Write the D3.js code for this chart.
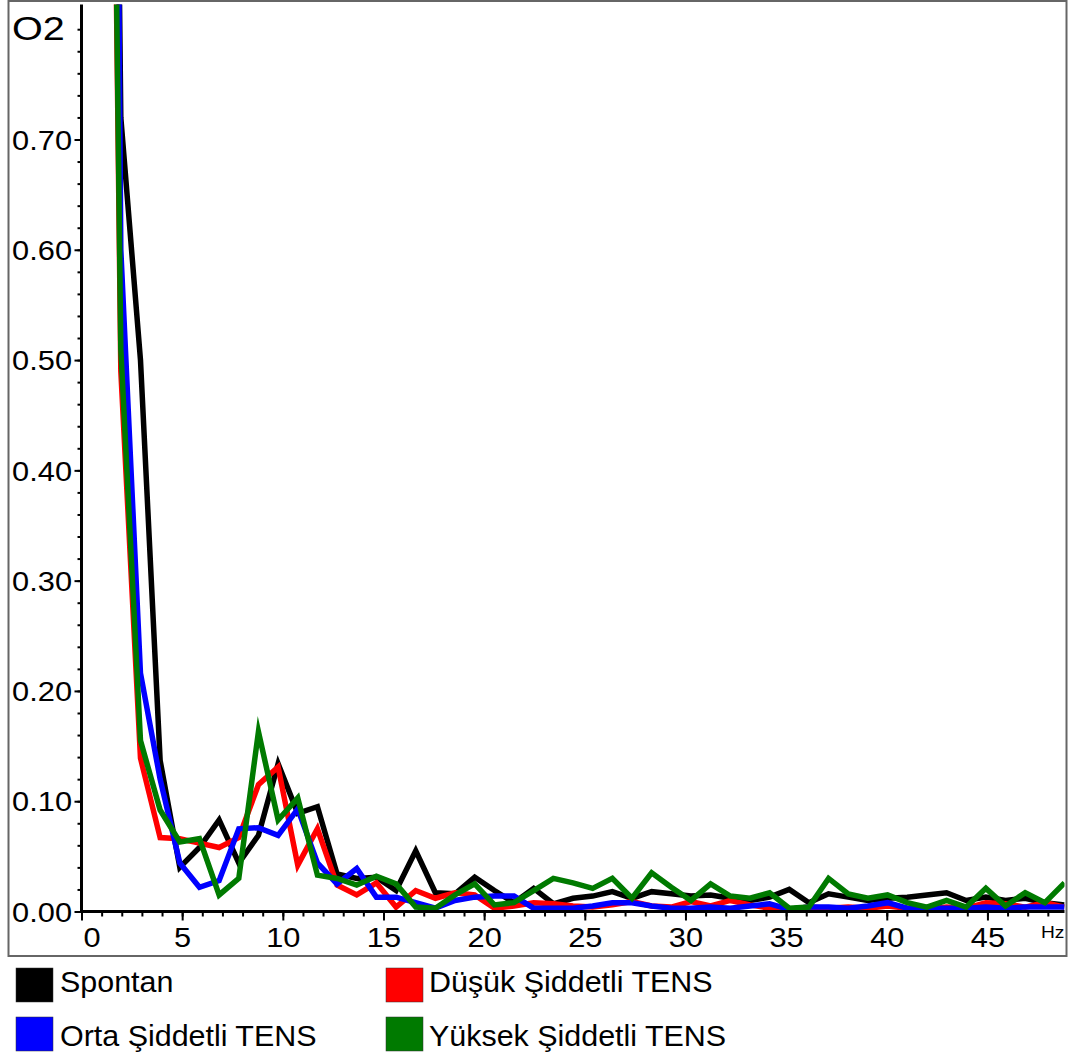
<!DOCTYPE html>
<html>
<head>
<meta charset="utf-8">
<script src="https://cdn.jsdelivr.net/npm/d3@7"></script>
<style>
  html, body { margin: 0; padding: 0; background: #fff; }
  svg { display: block; }
  text { font-family: "Liberation Sans", Arial, sans-serif; fill: #000; }
</style>
</head>
<body>
<svg id="chart" width="1070" height="1057"></svg>
<script>
// ---- data ----
const freqs = [0.977, 1.953, 2.930, 3.906, 4.883, 5.859, 6.836, 7.813, 8.789, 9.766,
  10.742, 11.719, 12.695, 13.672, 14.648, 15.625, 16.602, 17.578, 18.555, 19.531,
  20.508, 21.484, 22.461, 23.438, 24.414, 25.391, 26.367, 27.344, 28.320, 29.297,
  30.273, 31.250, 32.227, 33.203, 34.180, 35.156, 36.133, 37.109, 38.086, 39.063,
  40.039, 41.016, 41.992, 42.969, 43.945, 44.922, 45.898, 46.875, 47.852, 48.828];

const spontan = [2.3, 0.72, 0.50, 0.137, 0.040, 0.058, 0.083, 0.044, 0.069, 0.134,
  0.089, 0.095, 0.034, 0.030, 0.031, 0.019, 0.055, 0.017, 0.016, 0.031,
  0.019, 0.008, 0.021, 0.007, 0.012, 0.014, 0.018, 0.012, 0.018, 0.016,
  0.014, 0.015, 0.012, 0.010, 0.013, 0.020, 0.008, 0.016, 0.013, 0.010,
  0.012, 0.013, 0.015, 0.017, 0.010, 0.013, 0.010, 0.012, 0.008, 0.006];

const dusuk = [2.0, 0.49, 0.139, 0.067, 0.066, 0.062, 0.058, 0.067, 0.115, 0.131,
  0.042, 0.075, 0.024, 0.015, 0.026, 0.004, 0.019, 0.012, 0.017, 0.015,
  0.003, 0.005, 0.008, 0.007, 0.005, 0.004, 0.006, 0.009, 0.005, 0.004,
  0.009, 0.005, 0.010, 0.006, 0.003, 0.002, 0.004, 0.003, 0.004, 0.003,
  0.005, 0.003, 0.002, 0.004, 0.003, 0.008, 0.007, 0.004, 0.008, 0.004];

const orta = [3.0, 0.60, 0.216, 0.12, 0.044, 0.022, 0.028, 0.075, 0.076, 0.069,
  0.093, 0.044, 0.025, 0.039, 0.013, 0.013, 0.008, 0.003, 0.010, 0.013,
  0.014, 0.014, 0.003, 0.003, 0.003, 0.005, 0.008, 0.008, 0.005, 0.003,
  0.003, 0.004, 0.003, 0.005, 0.007, 0.002, 0.004, 0.004, 0.003, 0.005,
  0.008, 0.003, 0.003, 0.003, 0.003, 0.004, 0.003, 0.004, 0.004, 0.004];

const yuksek = [2.0, 0.51, 0.155, 0.092, 0.063, 0.066, 0.015, 0.030, 0.163, 0.083,
  0.103, 0.033, 0.030, 0.024, 0.032, 0.025, 0.004, 0.003, 0.015, 0.025,
  0.006, 0.008, 0.019, 0.030, 0.026, 0.021, 0.030, 0.012, 0.035, 0.022,
  0.010, 0.025, 0.014, 0.012, 0.017, 0.003, 0.004, 0.030, 0.016, 0.012,
  0.015, 0.008, 0.004, 0.010, 0.004, 0.021, 0.005, 0.017, 0.008, 0.026];

const seriesNames = ["Spontan", "Düşük Şiddetli TENS", "Orta Şiddetli TENS", "Yüksek Şiddetli TENS"];
const seriesColors = ["#000000", "#ff0000", "#0000ff", "#007a00"];
const seriesValues = [spontan, dusuk, orta, yuksek];

const yMajorTicks = [0, 0.1, 0.2, 0.3, 0.4, 0.5, 0.6, 0.7];
const xMajorTicks = [0, 5, 10, 15, 20, 25, 30, 35, 40, 45];
const chartTitle = "O2";
const xUnit = "Hz";

// ---- layout ----
const svg = d3.select("#chart");
const pLeft = 81.5, pRight = 1064.5, pTop = 4.5, pBottom = 911.5;

const x = d3.scaleLinear().domain([0, 48.828]).range([pLeft, pRight]);
const y = d3.scaleLinear().domain([0, 0.8224]).range([pBottom, pTop]);

// outer frame
svg.append("rect")
  .attr("x", 8.5).attr("y", 1).attr("width", 1058).attr("height", 955)
  .attr("fill", "none").attr("stroke", "#666").attr("stroke-width", 2);

// clip
svg.append("defs").append("clipPath").attr("id", "plotclip")
  .append("rect").attr("x", pLeft).attr("y", pTop)
  .attr("width", pRight - pLeft).attr("height", pBottom - pTop);

// lines
const line = d3.line()
  .x((d, i) => x(freqs[i]))
  .y(d => y(d));

const lg = svg.append("g").attr("clip-path", "url(#plotclip)");
seriesValues.forEach((vals, si) => {
  lg.append("path")
    .attr("d", line(vals))
    .attr("fill", "none")
    .attr("stroke", seriesColors[si])
    .attr("stroke-width", 5.5)
    .attr("stroke-linejoin", "miter")
    .attr("stroke-miterlimit", 10);
});

// y axis minor ticks
const yMinor = d3.range(0, 41).map(i => i * 0.02);
svg.append("g").attr("transform", `translate(${pLeft},0)`)
  .call(d3.axisLeft(y).tickValues(yMinor).tickSize(4).tickSizeOuter(0).tickFormat(""))
  .call(g => g.select(".domain").remove())
  .call(g => g.selectAll("line").attr("stroke", "#000").attr("stroke-width", 2));

// y axis major
const yAx = svg.append("g").attr("transform", `translate(${pLeft},0)`)
  .call(d3.axisLeft(y).tickValues(yMajorTicks).tickSize(7).tickSizeOuter(0).tickFormat(d3.format(".2f")));
yAx.select(".domain").remove();
yAx.selectAll("line").attr("stroke", "#000").attr("stroke-width", 2);
yAx.selectAll("text")
  .attr("x", 0).attr("dy", "0.36em")
  .attr("transform", "translate(-9.5,0) scale(1.14,1)")
  .style("font-size", "27px")
  .style("font-family", "'Liberation Sans', Arial, sans-serif")
  .attr("fill", "#000");

// x axis minor ticks
const xMinor = d3.range(0, 49);
svg.append("g").attr("transform", `translate(0,${pBottom})`)
  .call(d3.axisBottom(x).tickValues(xMinor).tickSize(5).tickSizeOuter(0).tickFormat(""))
  .call(g => g.select(".domain").remove())
  .call(g => g.selectAll("line").attr("stroke", "#000").attr("stroke-width", 2));

// x axis major
const xAx = svg.append("g").attr("transform", `translate(0,${pBottom})`)
  .call(d3.axisBottom(x).tickValues(xMajorTicks).tickSize(9).tickSizeOuter(0).tickFormat(d3.format("d")));
xAx.select(".domain").remove();
xAx.selectAll("line").attr("stroke", "#000").attr("stroke-width", 2);
xAx.selectAll("text")
  .attr("y", 0).attr("dy", 0)
  .attr("transform", d => d === 0 ? "translate(10,35.5) scale(1.14,1)" : "translate(0,35.5) scale(1.14,1)")
  .style("font-size", "27px")
  .style("font-family", "'Liberation Sans', Arial, sans-serif")
  .attr("fill", "#000");

// axis lines
svg.append("line").attr("x1", pLeft).attr("x2", pLeft).attr("y1", pTop).attr("y2", pBottom + 1)
  .attr("stroke", "#000").attr("stroke-width", 3);
svg.append("line").attr("x1", pLeft - 1).attr("x2", pRight).attr("y1", pBottom).attr("y2", pBottom)
  .attr("stroke", "#000").attr("stroke-width", 3);

// title
svg.append("text")
  .attr("transform", "translate(12,40) scale(1.2,1)")
  .style("font-size", "33px")
  .text(chartTitle);

// unit
svg.append("text")
  .attr("transform", "translate(1041,938) scale(1.2,1)")
  .style("font-size", "16px")
  .text(xUnit);

// legend
const legendPos = [
  { sx: 16, sy: 968, tx: 60, ty: 992 },
  { sx: 386, sy: 968, tx: 429, ty: 992 },
  { sx: 16, sy: 1017, tx: 60, ty: 1046 },
  { sx: 386, sy: 1017, tx: 429, ty: 1046 }
];
const leg = svg.append("g");
seriesNames.forEach((name, i) => {
  const p = legendPos[i];
  leg.append("rect")
    .attr("x", p.sx).attr("y", p.sy).attr("width", 37).attr("height", 34)
    .attr("fill", seriesColors[i]).attr("stroke", "#333").attr("stroke-width", 0.5);
  leg.append("text")
    .attr("transform", `translate(${p.tx},${p.ty}) scale(1.05,1)`)
    .style("font-size", "29px")
    .text(name);
});
</script>
</body>
</html>
